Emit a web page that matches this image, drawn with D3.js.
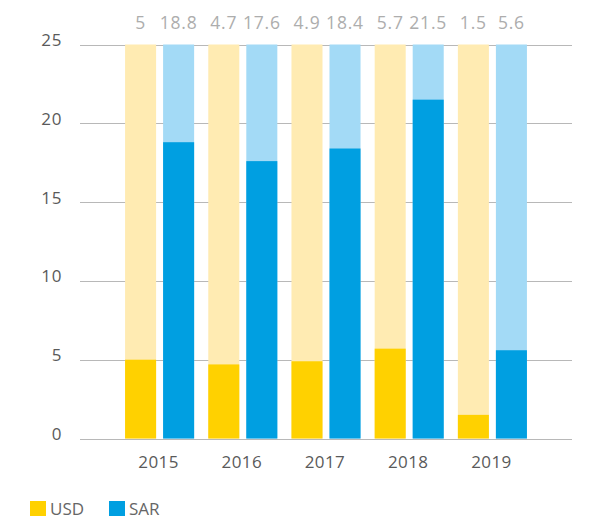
<!DOCTYPE html>
<html>
<head>
<meta charset="utf-8">
<script src="https://cdn.jsdelivr.net/npm/d3@7"></script>
<style>
  body { margin: 0; background: #fff; }
  svg { display: block; font-family: 'Open Sans', Lato, sans-serif; }
</style>
</head>
<body>
<div id="chart"></div>
<script>
// Data
const years = ['2015', '2016', '2017', '2018', '2019']
const usd = [5, 4.7, 4.9, 5.7, 1.5]
const sar = [18.8, 17.6, 18.4, 21.5, 5.6]
const currencies = ['USD', 'SAR']
const yTicks = [0, 5, 10, 15, 20, 25]
const yMax = 25

const colors = {
  USD: { full: '#ffd100', back: '#ffebb2' },
  SAR: { full: '#009fe1', back: '#a3daf6' }
}

const width = 602
const height = 520

const svg = d3.select('#chart')
  .append('svg')
  .attr('width', width)
  .attr('height', height)

// Scales
const y = d3.scaleLinear()
  .domain([0, yMax])
  .range([438.5, 44.5])

const x0 = d3.scaleBand()
  .domain(years)
  .range([118, 534])
  .paddingInner(0.17)
  .paddingOuter(0.085)

const x1 = d3.scaleBand()
  .domain(currencies)
  .range([0, x0.bandwidth()])
  .paddingInner(0.184)

const rows = years.map((yr, i) => ({ year: yr, USD: usd[i], SAR: sar[i] }))

// Gridlines
svg.append('g')
  .selectAll('line')
  .data(yTicks)
  .join('line')
  .attr('x1', 80)
  .attr('x2', 572)
  .attr('y1', d => Math.round(y(d)) + 0.5)
  .attr('y2', d => Math.round(y(d)) + 0.5)
  .attr('stroke', '#b8b8b8')
  .attr('stroke-width', 1)

// Y labels
svg.append('g')
  .selectAll('text')
  .data(yTicks)
  .join('text')
  .attr('x', 62)
  .attr('y', d => y(d) + 1.5)
  .attr('text-anchor', 'end')
  .style('font-size', '17px')
  .style('letter-spacing', '0.6px')
  .style('fill', '#5a5a5a')
  .text(d => d)

// Bars
const groups = svg.append('g')
  .selectAll('g')
  .data(rows)
  .join('g')
  .attr('transform', d => `translate(${x0(d.year)},0)`)

const items = groups.selectAll('g')
  .data(d => currencies.map(c => ({ key: c, value: d[c] })))
  .join('g')

// background bar up to max
items.append('rect')
  .attr('x', d => x1(d.key))
  .attr('width', x1.bandwidth())
  .attr('y', y(yMax))
  .attr('height', y(0) - y(yMax))
  .attr('fill', d => colors[d.key].back)

items.append('rect')
  .attr('x', d => x1(d.key))
  .attr('width', x1.bandwidth())
  .attr('y', d => y(d.value))
  .attr('height', d => y(0) - y(d.value))
  .attr('fill', d => colors[d.key].full)

// value labels
items.append('text')
  .attr('x', d => x1(d.key) + x1.bandwidth() / 2)
  .attr('y', 29)
  .attr('text-anchor', 'middle')
  .style('font-size', '17.5px')
  .style('letter-spacing', '0.8px')
  .style('fill', '#adadad')
  .text(d => d.value)

// baseline redrawn over bars
svg.append('line')
  .attr('x1', 80)
  .attr('x2', 572)
  .attr('y1', Math.round(y(0)) + 0.5)
  .attr('y2', Math.round(y(0)) + 0.5)
  .attr('stroke', '#b8b8b8')

// X labels
svg.append('g')
  .selectAll('text')
  .data(years)
  .join('text')
  .attr('x', d => x0(d) + x0.bandwidth() / 2 - 1)
  .attr('y', 468)
  .attr('text-anchor', 'middle')
  .style('font-size', '17px')
  .style('letter-spacing', '0.4px')
  .style('fill', '#5a5a5a')
  .text(d => d)

// Legend
const legendX = [30, 109]
const legend = svg.append('g')
  .selectAll('g')
  .data(currencies)
  .join('g')
  .attr('transform', (d, i) => `translate(${legendX[i]},501)`)

legend.append('rect')
  .attr('width', 16)
  .attr('height', 15)
  .attr('fill', d => colors[d].full)

legend.append('text')
  .attr('x', 20)
  .attr('y', 14)
  .style('font-size', '17px')
  .style('fill', '#666')
  .text(d => d)
</script>
</body>
</html>
